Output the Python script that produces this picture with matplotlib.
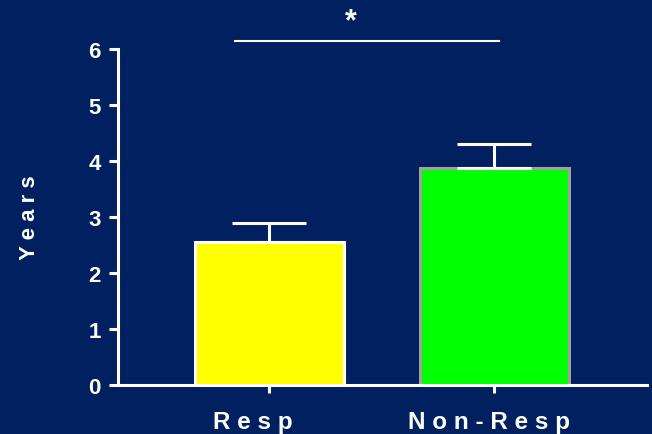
import numpy as np
import matplotlib.pyplot as plt
import matplotlib.transforms as mtransforms

# data
groups = ['R e s p', 'N o n - R e s p']
means = [2.55, 3.88]
sem_upper = [0.35, 0.42]
bar_colors = ['#FFFF00', '#00FF00']
edge_colors = ['#FFFFFF', '#A0A0A0']
yticks = [0, 1, 2, 3, 4, 5, 6]

bg = '#002060'
fg = 'white'
lw = 2.2

plt.rcParams['font.family'] = ['Liberation Sans', 'DejaVu Sans']
plt.rcParams['font.weight'] = 'bold'

fig = plt.figure(figsize=(6.52, 4.35), dpi=100, facecolor=bg)
ax = fig.add_axes([118 / 652, 49 / 435, (647 - 118) / 652, (386 - 50) / 435])
ax.set_facecolor(bg)

x = np.arange(len(groups))
ax.bar(x, means, width=0.66, color=bar_colors, edgecolor=edge_colors,
       linewidth=lw, zorder=2)
ax.errorbar(x, means, yerr=[[0] * len(x), sem_upper], fmt='none',
            ecolor=fg, elinewidth=lw, capsize=26.5, capthick=lw, zorder=3)

ax.set_xlim(-0.673, 1.678)
ax.set_ylim(0, 6)
ax.set_yticks(yticks)
ax.set_xticks(x)
ax.set_xticklabels(groups, fontsize=17.5, color=fg, fontweight='bold')
ax.tick_params(axis='y', labelsize=16, colors=fg, length=6.5, width=lw, pad=6)
ax.tick_params(axis='x', colors=fg, length=6, width=lw, pad=12)
for lab in ax.get_yticklabels():
    lab.set_fontweight('bold')

# labels in the reference sit a little left of the bar centres
for lab, dx in zip(ax.get_xticklabels(), [-17, -5]):
    lab.set_transform(lab.get_transform() +
                      mtransforms.ScaledTranslation(dx / 100, 0, fig.dpi_scale_trans))

for side in ['top', 'right']:
    ax.spines[side].set_visible(False)
for side in ['left', 'bottom']:
    ax.spines[side].set_color(fg)
    ax.spines[side].set_linewidth(lw)

ax.set_ylabel('Y e a r s', fontsize=16, color=fg, fontweight='bold')
ax.yaxis.set_label_coords(-(118 - 40) / (647 - 118), 0.5)

# significance bar
ax.plot([-0.153, 1.02], [6.15, 6.15], color=fg, linewidth=1.5, clip_on=False)
ax.text(0.36, 6.5, '*', ha='center', va='center', fontsize=22, color=fg,
        fontweight='bold', clip_on=False)

fig.savefig('out.png', dpi=100, facecolor=bg)
